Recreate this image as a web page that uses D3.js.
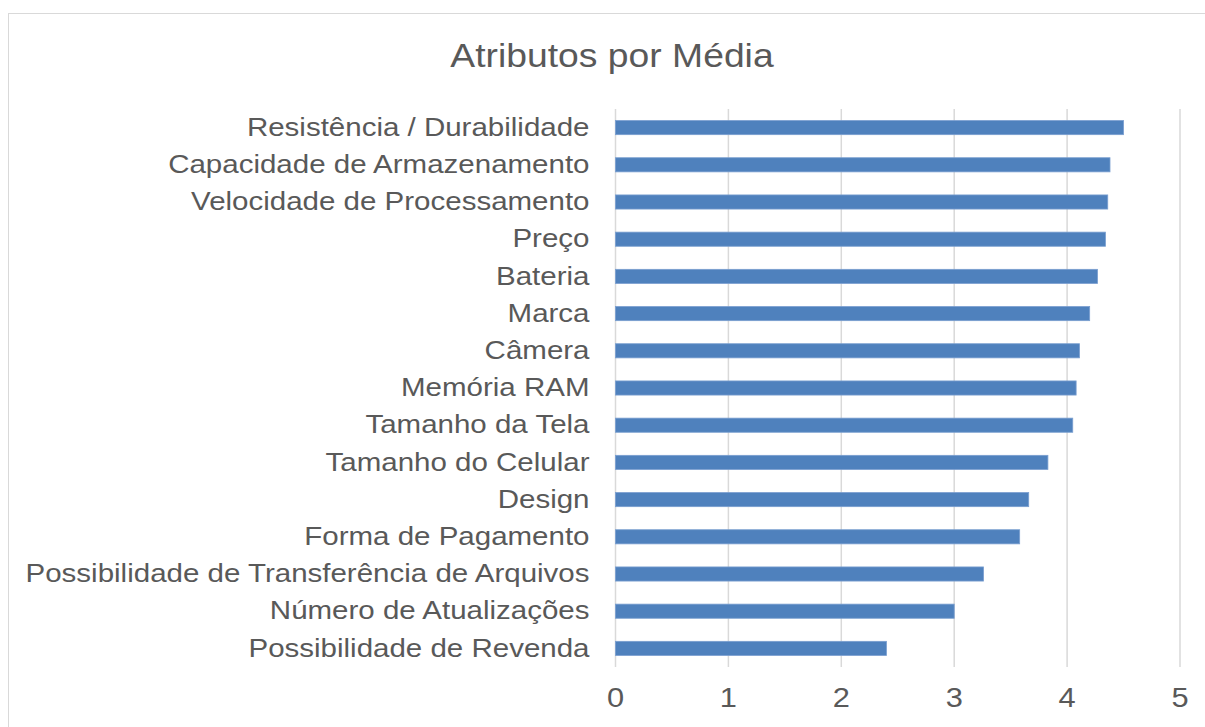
<!DOCTYPE html>
<html>
<head>
<meta charset="utf-8">
<script src="https://cdn.jsdelivr.net/npm/d3@7"></script>
<style>
    body { margin: 0; background: #fff; }
    text { font-family: "Liberation Sans", Arial, sans-serif; fill: #595959; }
</style>
</head>
<body>
<div id="chart"></div>
<script>
// data, top to bottom
var categories = [
    'Resistência / Durabilidade',
    'Capacidade de Armazenamento',
    'Velocidade de Processamento',
    'Preço',
    'Bateria',
    'Marca',
    'Câmera',
    'Memória RAM',
    'Tamanho da Tela',
    'Tamanho do Celular',
    'Design',
    'Forma de Pagamento',
    'Possibilidade de Transferência de Arquivos',
    'Número de Atualizações',
    'Possibilidade de Revenda'
];
var values = [4.50, 4.38, 4.36, 4.34, 4.27, 4.20, 4.11, 4.08, 4.05, 3.83, 3.66, 3.58, 3.26, 3.00, 2.40];
var ticks = [0, 1, 2, 3, 4, 5];
var title = 'Atributos por Média';

var width = 1205, height = 727,
    margin = {top: 109, bottom: 667, left: 615.5, right: 1180};

// the source text is a bit wider than Arial, stretch it horizontally
var stretch = 1.157;

var svg = d3.select('#chart').append('svg')
    .attr('width', width)
    .attr('height', height);

// outer chart border
svg.append('rect')
    .attr('x', 8.5).attr('y', 13.5)
    .attr('width', width).attr('height', height)
    .attr('fill', 'none')
    .attr('stroke', '#d9d9d9')
    .attr('stroke-width', 1);

svg.append('text')
    .attr('transform', 'translate(612,67) scale(1.13,1)')
    .attr('text-anchor', 'middle')
    .style('font-size', '33px')
    .text(title);

var x = d3.scaleLinear()
    .domain([0, 5])
    .range([margin.left, margin.right]);

var y = d3.scaleBand()
    .domain(categories)
    .range([margin.top, margin.bottom])
    .paddingInner(0.62)
    .paddingOuter(0.31);

// gridlines
svg.append('g')
    .selectAll('line')
    .data(ticks)
    .enter()
    .append('line')
    .attr('x1', function (d) { return x(d); })
    .attr('x2', function (d) { return x(d); })
    .attr('y1', margin.top)
    .attr('y2', margin.bottom)
    .attr('stroke', '#d9d9d9')
    .attr('stroke-width', 1.5);

// bars
svg.append('g')
    .selectAll('rect')
    .data(values)
    .enter()
    .append('rect')
    .attr('x', x(0))
    .attr('y', function (d, i) { return y(categories[i]); })
    .attr('width', function (d) { return x(d) - x(0); })
    .attr('height', y.bandwidth())
    .attr('fill', '#4f81bd')
    .attr('stroke', '#7a9fd0')
    .attr('stroke-width', 0.8);

// x axis
var xAxis = d3.axisBottom(x)
    .tickValues(ticks)
    .tickFormat(d3.format('d'))
    .tickSize(0)
    .tickPadding(20);

var gX = svg.append('g')
    .attr('transform', 'translate(0,' + margin.bottom + ')')
    .call(xAxis);
gX.select('.domain').remove();
gX.selectAll('.tick')
    .attr('transform', function (d) { return 'translate(' + x(d) + ',0) scale(1.1,1)'; });
gX.selectAll('text')
    .style('font-size', '28px')
    .attr('fill', '#595959')
    .attr('font-family', '"Liberation Sans", Arial, sans-serif');

// y axis labels
var yAxis = d3.axisLeft(y)
    .tickSize(0)
    .tickPadding(26);

var gY = svg.append('g')
    .attr('transform', 'translate(' + margin.left + ',0)')
    .call(yAxis);
gY.select('.domain').remove();
gY.selectAll('text')
    .style('font-size', '25.5px')
    .attr('x', -26 / stretch)
    .attr('transform', 'scale(' + stretch + ',1)')
    .attr('fill', '#595959')
    .attr('font-family', '"Liberation Sans", Arial, sans-serif');
</script>
</body>
</html>
